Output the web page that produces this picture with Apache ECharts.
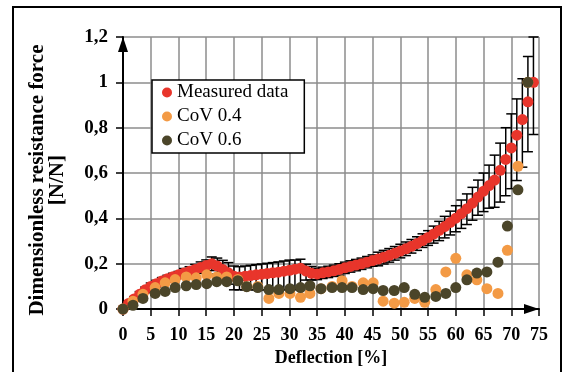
<!DOCTYPE html>
<html>
<head>
<meta charset="utf-8">
<script src="https://cdn.jsdelivr.net/npm/echarts@6/dist/echarts.min.js"></script>
<style>html,body{margin:0;padding:0;background:#fff;}#c{width:567px;height:372px;}</style>
</head>
<body>
<div id="c"></div>
<script>
// Measured data (1 % steps, 0..74)
var measuredX = [0,1,2,3,4,5,6,7,8,9,10,11,12,13,14,15,16,17,18,19,20,21,22,23,24,25,26,27,28,29,30,31,32,33,34,35,36,37,38,39,40,41,42,43,44,45,46,47,48,49,50,51,52,53,54,55,56,57,58,59,60,61,62,63,64,65,66,67,68,69,70,71,72,73,74];
var measuredY = [0,0.025,0.045,0.065,0.085,0.1,0.112,0.124,0.134,0.143,0.151,0.159,0.167,0.175,0.183,0.192,0.2,0.19,0.175,0.16,0.145,0.142,0.145,0.148,0.151,0.154,0.157,0.16,0.163,0.167,0.171,0.176,0.18,0.168,0.158,0.155,0.16,0.164,0.169,0.175,0.182,0.188,0.194,0.2,0.207,0.214,0.221,0.229,0.237,0.246,0.256,0.266,0.277,0.289,0.302,0.316,0.331,0.347,0.364,0.382,0.401,0.421,0.443,0.467,0.494,0.52,0.545,0.569,0.612,0.66,0.711,0.767,0.836,0.914,1.0];
var measuredErrUp = [0.005,0.01,0.01,0.012,0.012,0.015,0.015,0.015,0.015,0.015,0.015,0.02,0.02,0.022,0.025,0.025,0.03,0.035,0.04,0.045,0.045,0.045,0.045,0.045,0.045,0.045,0.045,0.045,0.045,0.045,0.045,0.04,0.04,0.03,0.03,0.025,0.025,0.025,0.025,0.025,0.025,0.025,0.025,0.025,0.025,0.025,0.03,0.03,0.03,0.03,0.03,0.03,0.03,0.03,0.03,0.03,0.035,0.04,0.045,0.05,0.055,0.06,0.065,0.07,0.075,0.08,0.09,0.11,0.12,0.14,0.15,0.16,0.18,0.2,0.2];
var measuredErrDown = [0.005,0.01,0.01,0.012,0.012,0.015,0.015,0.015,0.015,0.015,0.015,0.02,0.02,0.022,0.025,0.025,0.03,0.035,0.04,0.05,0.06,0.057,0.06,0.063,0.066,0.069,0.072,0.075,0.078,0.082,0.086,0.09,0.095,0.04,0.03,0.025,0.025,0.025,0.025,0.025,0.025,0.025,0.025,0.025,0.025,0.025,0.03,0.03,0.03,0.03,0.03,0.03,0.03,0.03,0.03,0.035,0.04,0.045,0.05,0.055,0.06,0.065,0.07,0.075,0.08,0.09,0.1,0.12,0.14,0.16,0.18,0.2,0.21,0.22,0.23];
// Simulations
var covX = [0,1.8,3.6,5.8,7.6,9.4,11.4,13.2,15.1,16.9,18.7,20.7,22.3,24.3,26.3,28.1,30.1,32.0,33.7,35.7,37.7,39.5,41.3,43.3,45.1,46.9,48.9,50.7,52.6,54.4,56.4,58.2,60.0,62.0,63.8,65.6,67.6,69.3,71.2,73.0];
var cov04Y = [0,0.035,0.065,0.095,0.116,0.13,0.142,0.138,0.151,0.142,0.142,0.13,0.1,0.1,0.047,0.069,0.069,0.052,0.069,0.09,0.1,0.125,0.1,0.116,0.116,0.035,0.026,0.03,0.047,0.03,0.086,0.164,0.224,0.151,0.129,0.09,0.069,0.259,0.63,1.0];
var cov06Y = [0,0.017,0.047,0.069,0.078,0.095,0.103,0.108,0.112,0.121,0.121,0.125,0.099,0.095,0.086,0.086,0.09,0.095,0.103,0.09,0.095,0.095,0.095,0.086,0.09,0.082,0.082,0.095,0.065,0.052,0.056,0.069,0.095,0.129,0.159,0.164,0.207,0.366,0.526,1.0];
var seriesNames = ['Measured data','CoV 0.4','CoV 0.6'];
var xAxisTitle = 'Deflection [%]';
var yAxisTitle = 'Dimensionless resistance force\n[N/N]';

function pairs(xs, ys){ return xs.map(function(x,i){ return [x, ys[i]]; }); }
var errData = measuredX.map(function(x,i){ return [x, measuredY[i]+measuredErrUp[i], measuredY[i]-measuredErrDown[i]]; });

var FONT = 'Liberation Serif';
var ARROW = 'path://M5,0 L10,15 L0,15 Z';
var chart = echarts.init(document.getElementById('c'), null, {renderer:'canvas'});
chart.setOption({
  animation:false,
  backgroundColor:'#fff',
  grid:{left:123,right:28,top:37,bottom:57,containLabel:false},
  graphic:[{type:'rect',shape:{x:13,y:7,width:548,height:380},style:{fill:'none',stroke:'#000',lineWidth:2},silent:true,z:-1}],
  legend:{
    orient:'vertical',left:152,top:80,
    data:seriesNames,
    icon:'circle',itemWidth:10,itemHeight:10,itemGap:5,
    padding:[3,16,3,10],
    backgroundColor:'#fff',borderColor:'#000',borderWidth:1.5,
    textStyle:{fontFamily:FONT,fontSize:19,color:'#000',lineHeight:18}
  },
  xAxis:{
    type:'value',min:0,max:75,interval:5,
    name:xAxisTitle,nameLocation:'middle',nameGap:34,
    nameTextStyle:{fontFamily:FONT,fontSize:18,fontWeight:'bold',color:'#000'},
    axisLine:{lineStyle:{color:'#000',width:2},symbol:['none',ARROW],symbolSize:[13,15],symbolOffset:[0,-7.5]},
    axisTick:{show:true,length:7,lineStyle:{color:'#000',width:1.5}},
    axisLabel:{margin:17,fontFamily:FONT,fontSize:18,fontWeight:'bold',color:'#000'},
    splitLine:{show:true,lineStyle:{color:'#8c8c8c',width:1.5}}
  },
  yAxis:{
    type:'value',min:0,max:1.2,interval:0.2,
    name:yAxisTitle,nameLocation:'middle',nameRotate:90,nameGap:55,
    nameTextStyle:{fontFamily:FONT,fontSize:21,fontWeight:'bold',color:'#000',lineHeight:20,align:'center',padding:[0,14,0,0]},
    axisLine:{lineStyle:{color:'#000',width:2},symbol:['none',ARROW],symbolSize:[13,15],symbolOffset:[0,-7.5]},
    axisTick:{show:true,length:7,lineStyle:{color:'#000',width:1.5}},
    axisLabel:{margin:15,fontFamily:FONT,fontSize:19,fontWeight:'bold',color:'#000',
      formatter:function(v){ return String(Math.round(v*10)/10).replace('.',','); }},
    splitLine:{show:true,lineStyle:{color:'#8c8c8c',width:1.5}}
  },
  series:[
    {
      type:'custom',name:'err',z:2,silent:true,
      data:errData,
      renderItem:function(params, api){
        var x=api.value(0), hi=api.value(1), lo=api.value(2);
        var t=api.coord([x,hi]), b=api.coord([x,lo]);
        var hw=5, st={stroke:'#000',lineWidth:1.5};
        return {type:'group',children:[
          {type:'line',shape:{x1:t[0],y1:t[1],x2:b[0],y2:b[1]},style:st},
          {type:'line',shape:{x1:t[0]-hw,y1:t[1],x2:t[0]+hw,y2:t[1]},style:st},
          {type:'line',shape:{x1:b[0]-hw,y1:b[1],x2:b[0]+hw,y2:b[1]},style:st}
        ]};
      }
    },
    {type:'scatter',name:seriesNames[0],z:3,symbol:'circle',symbolSize:11,itemStyle:{color:'#e8352b',opacity:1},data:pairs(measuredX,measuredY)},
    {type:'scatter',name:seriesNames[1],z:4,symbol:'circle',symbolSize:11,itemStyle:{color:'#f39a45',opacity:1},data:pairs(covX,cov04Y)},
    {type:'scatter',name:seriesNames[2],z:5,symbol:'circle',symbolSize:11,itemStyle:{color:'#4b4529',opacity:1},data:pairs(covX,cov06Y)}
  ]
});
</script>
</body>
</html>
